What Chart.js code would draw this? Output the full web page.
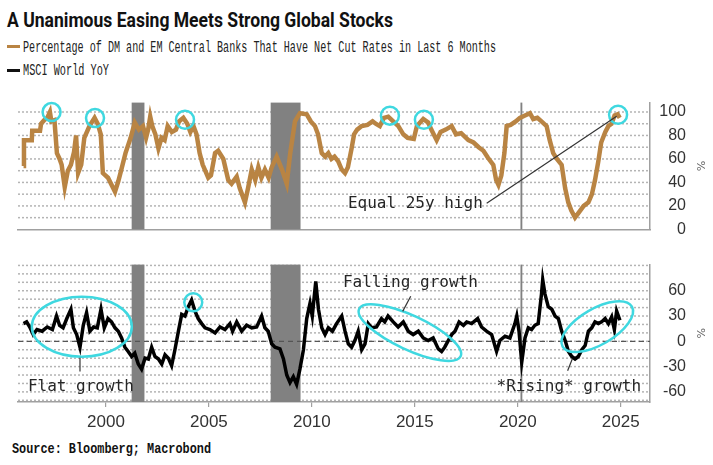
<!DOCTYPE html>
<html>
<head>
<meta charset="utf-8">
<script src="https://cdn.jsdelivr.net/npm/chart.js@4.4.1/dist/chart.umd.min.js"></script>
<style>
  body { margin: 0; width: 713px; height: 465px; background: #fff; position: relative; overflow: hidden; }
  .abs { position: absolute; white-space: nowrap; }
  #title { left: 7px; top: 10px; font: bold 20px Roboto, sans-serif; line-height: 20px; color: #111; }
  .leg { left: 23px; font: 16px "Liberation Mono", monospace; line-height: 16px; color: #222; }
  .sw { position: absolute; left: 7px; width: 13px; height: 3px; }
  #source { left: 12px; top: 442px; font: bold 14px "Liberation Mono", monospace; line-height: 14px; color: #111; }
  canvas { position: absolute; left: 0; }
</style>
</head>
<body>
<div id="title" class="abs js-fit" data-w="386">A Unanimous Easing Meets Strong Global Stocks</div>
<div class="sw" style="top:45px;background:#b98443"></div>
<div class="abs leg js-fit" data-w="473" style="top:40px">Percentage of DM and EM Central Banks That Have Net Cut Rates in Last 6 Months</div>
<div class="sw" style="top:69px;background:#111"></div>
<div class="abs leg js-fit" data-w="86" style="top:63px">MSCI World YoY</div>
<canvas id="chartTop" width="713" height="160" style="top:86px"></canvas>
<canvas id="chartBottom" width="713" height="190" style="top:248px"></canvas>
<div id="source" class="abs js-fit" data-w="199">Source: Bloomberg; Macrobond</div>

<script>
// percentage of central banks with net cuts (last 6 months)
const pctDates = [1996.00, 1996.02, 1996.40, 1996.42, 1996.80, 1996.85, 1997.00, 1997.15, 1997.28, 1997.35, 1997.50, 1997.62, 1997.75, 1997.85, 1998.00, 1998.15, 1998.30, 1998.45, 1998.55, 1998.65, 1998.80, 1998.95, 1999.20, 1999.45, 1999.60, 1999.75, 1999.85, 2000.10, 2000.44, 2000.60, 2000.75, 2000.95, 2001.20, 2001.40, 2001.60, 2001.80, 2001.95, 2002.05, 2002.15, 2002.25, 2002.40, 2002.55, 2002.70, 2002.85, 2003.00, 2003.20, 2003.40, 2003.55, 2003.76, 2003.95, 2004.10, 2004.25, 2004.40, 2004.55, 2004.70, 2004.97, 2005.10, 2005.30, 2005.45, 2005.70, 2005.94, 2006.10, 2006.35, 2006.50, 2006.75, 2006.90, 2007.08, 2007.25, 2007.40, 2007.55, 2007.72, 2007.90, 2008.05, 2008.29, 2008.55, 2008.78, 2008.95, 2009.18, 2009.42, 2009.75, 2009.95, 2010.15, 2010.30, 2010.48, 2010.65, 2010.80, 2010.95, 2011.10, 2011.28, 2011.45, 2011.61, 2011.75, 2011.93, 2012.05, 2012.20, 2012.42, 2012.70, 2012.95, 2013.10, 2013.30, 2013.50, 2013.71, 2013.95, 2014.20, 2014.44, 2014.65, 2014.95, 2015.10, 2015.41, 2015.65, 2015.80, 2016.06, 2016.25, 2016.50, 2016.79, 2017.00, 2017.25, 2017.60, 2017.85, 2018.10, 2018.33, 2018.55, 2018.81, 2018.95, 2019.06, 2019.20, 2019.35, 2019.46, 2019.65, 2019.90, 2020.10, 2020.35, 2020.59, 2020.75, 2020.95, 2021.15, 2021.40, 2021.55, 2021.72, 2021.90, 2022.13, 2022.30, 2022.45, 2022.60, 2022.78, 2022.95, 2023.20, 2023.43, 2023.60, 2023.75, 2023.91, 2024.05, 2024.25, 2024.40, 2024.55, 2024.70, 2024.85, 2024.95];
const pctValues = [54, 76, 76, 84, 84, 90, 93, 95, 100, 92, 93, 65, 60, 55, 36, 50, 55, 66, 80, 48, 55, 78, 88, 95, 90, 81, 48, 44, 32, 41, 51, 65, 78, 91, 85, 88, 78, 85, 96, 88, 81, 69, 78, 76, 88, 83, 85, 92, 95, 90, 83, 88, 81, 65, 55, 44, 46, 65, 67, 60, 42, 39, 45, 35, 23, 35, 51, 42, 53, 44, 51, 44, 53, 62, 51, 39, 65, 92, 99, 98, 92, 88, 81, 65, 62, 65, 60, 62, 58, 51, 48, 53, 69, 81, 85, 88, 89, 92, 90, 88, 95, 96, 92, 88, 81, 78, 77, 88, 94, 91, 85, 76, 83, 85, 88, 81, 82, 76, 74, 70, 67, 61, 55, 42, 38, 46, 65, 88, 89, 92, 95, 97, 99, 94, 95, 92, 88, 76, 65, 60, 55, 35, 23, 16, 10, 14, 20, 23, 30, 42, 58, 74, 83, 88, 90, 97, 98, 95];

// MSCI World year-on-year change, %
const msciDates = [1996.00, 1996.15, 1996.30, 1996.47, 1996.65, 1996.90, 1997.15, 1997.40, 1997.60, 1997.75, 1997.92, 1998.10, 1998.30, 1998.42, 1998.58, 1998.74, 1998.90, 1999.06, 1999.22, 1999.40, 1999.58, 1999.76, 1999.92, 2000.10, 2000.27, 2000.44, 2000.60, 2000.76, 2000.92, 2001.08, 2001.25, 2001.40, 2001.57, 2001.73, 2001.90, 2002.06, 2002.22, 2002.38, 2002.55, 2002.71, 2002.87, 2003.03, 2003.19, 2003.35, 2003.52, 2003.68, 2003.84, 2004.00, 2004.16, 2004.32, 2004.48, 2004.65, 2004.81, 2005.05, 2005.30, 2005.54, 2005.78, 2006.02, 2006.15, 2006.35, 2006.59, 2006.83, 2007.08, 2007.32, 2007.56, 2007.72, 2007.88, 2008.05, 2008.21, 2008.45, 2008.62, 2008.78, 2008.94, 2009.10, 2009.26, 2009.42, 2009.59, 2009.75, 2009.91, 2010.02, 2010.19, 2010.32, 2010.48, 2010.64, 2010.80, 2011.00, 2011.20, 2011.45, 2011.61, 2011.77, 2011.93, 2012.09, 2012.25, 2012.42, 2012.58, 2012.74, 2012.90, 2013.14, 2013.38, 2013.54, 2013.70, 2013.95, 2014.19, 2014.44, 2014.68, 2014.92, 2015.17, 2015.41, 2015.65, 2015.89, 2016.14, 2016.30, 2016.45, 2016.63, 2016.79, 2016.95, 2017.15, 2017.36, 2017.52, 2017.76, 2018.05, 2018.24, 2018.48, 2018.73, 2018.97, 2019.13, 2019.38, 2019.62, 2019.86, 2019.95, 2020.06, 2020.19, 2020.35, 2020.51, 2020.67, 2020.83, 2020.99, 2021.15, 2021.21, 2021.32, 2021.48, 2021.65, 2021.81, 2021.97, 2022.13, 2022.30, 2022.46, 2022.62, 2022.78, 2022.94, 2023.11, 2023.27, 2023.43, 2023.59, 2023.75, 2023.91, 2024.07, 2024.24, 2024.40, 2024.56, 2024.69, 2024.80, 2024.96];
const msciValues = [21, 23, 17, 8, 14, 12, 17, 14, 30, 19, 16, 27, 38, 16, 8, -7, 19, 34, 12, 17, 16, 38, 16, 27, 23, 16, 12, 4, -7, -12, -18, -14, -27, -33, -20, -21, -7, -18, -21, -27, -16, -20, -29, -10, 12, 32, 30, 41, 49, 36, 27, 21, 16, 14, 10, 17, 14, 21, 12, 23, 12, 19, 16, 17, 30, 16, 12, -3, -7, -9, -21, -40, -49, -42, -51, -33, -10, 27, 45, 30, 71, 38, 16, 8, 16, 12, 21, 30, 12, -3, -7, 1, 12, -10, -3, 21, 16, 17, 27, 23, 30, 23, 17, 23, 12, 8, 12, 4, 1, 4, -9, -12, -7, 1, 8, 12, 23, 19, 23, 21, 27, 17, 12, 8, -12, 1, 6, 4, 21, 30, 12, -25, 4, 16, 14, 19, 21, 56, 73, 56, 41, 38, 30, 27, 12, 1, -12, -18, -21, -18, -10, -5, 12, 16, 23, 21, 23, 27, 21, 29, 14, 36, 25];

const xTicks = [2000, 2005, 2010, 2015, 2020, 2025];
const pctTicks = [0, 20, 40, 60, 80, 100];
const msciTicks = [-60, -30, 0, 30, 60];
const recessions = [[2001.25, 2001.87], [2008.0, 2009.45], [2020.13, 2020.22]];

const X_MIN = 1995.73;
const X_MAX = 2026.42;
const BROWN = '#b98443';
const CYAN = '#3fd8e0';
const AXIS_GREY = '#a0a0a0';

// annotations, positioned in data units
const topNotes = {
  circles: [[1997.36, 99.9], [1999.47, 94.8], [2003.84, 93.4], [2013.79, 96.9], [2015.44, 93.4], [2024.87, 97.6]],
  ellipses: [],
  lines: [[2018.49, 22.3, 2024.80, 96.4]],
  texts: [['Equal 25y high', 2011.75, 18.1]]
};
const bottomNotes = {
  circles: [[2004.24, 46.3]],
  ellipses: [[1998.83, 17.4, 50, 30, 0], [2014.76, 10.3, 56, 17, 25], [2023.86, 17.4, 40, 18, -30]],
  lines: [[1998.74, -19.5, 1998.74, -35.8], [2014.80, 53.5, 2014.41, 35.5], [2022.65, -20.6, 2022.42, -35.0]],
  texts: [['Flat growth', 1996.21, -58.6], ['Falling growth', 2011.51, 64.3], ['*Rising* growth', 2018.97, -58.6]]
};

const toPoints = function (dates, values) {
  return dates.map((d, i) => ({ x: d, y: values[i] }));
};

const makeOverlay = function (notes) {
  return {
    id: 'overlay',
    beforeDatasetsDraw(chart) {
      const { ctx, chartArea: a, scales: { x, y } } = chart;
      ctx.save();
      // dotted horizontal grid, one line per y tick
      ctx.strokeStyle = '#b4b4b4';
      ctx.lineWidth = 1.5;
      ctx.setLineDash([2, 2]);
      for (const t of y.ticks) {
        const py = y.getPixelForValue(t.value);
        if (py > a.bottom - 1) continue;
        ctx.beginPath();
        ctx.moveTo(a.left, py);
        ctx.lineTo(a.right, py);
        ctx.stroke();
      }
      ctx.setLineDash([]);
      ctx.fillStyle = '#818181';
      for (const [s, e] of recessions) {
        const x1 = x.getPixelForValue(s);
        const x2 = x.getPixelForValue(e);
        ctx.fillRect(x1, a.top, x2 - x1, a.bottom - a.top);
      }
      ctx.restore();
    },
    afterDatasetsDraw(chart) {
      const { ctx, chartArea: a, scales: { x, y } } = chart;
      ctx.save();
      ctx.strokeStyle = CYAN;
      ctx.lineWidth = 2.5;
      for (const [cx, cy] of notes.circles) {
        ctx.beginPath();
        ctx.arc(x.getPixelForValue(cx), y.getPixelForValue(cy), 9, 0, Math.PI * 2);
        ctx.stroke();
      }
      for (const [cx, cy, rx, ry, rot] of notes.ellipses) {
        ctx.beginPath();
        ctx.ellipse(x.getPixelForValue(cx), y.getPixelForValue(cy), rx, ry, rot * Math.PI / 180, 0, Math.PI * 2);
        ctx.stroke();
      }
      ctx.strokeStyle = '#333';
      ctx.lineWidth = 1.2;
      for (const [x1, y1, x2, y2] of notes.lines) {
        ctx.beginPath();
        ctx.moveTo(x.getPixelForValue(x1), y.getPixelForValue(y1));
        ctx.lineTo(x.getPixelForValue(x2), y.getPixelForValue(y2));
        ctx.stroke();
      }
      ctx.fillStyle = '#262626';
      ctx.font = '16px "DejaVu Sans Mono"';
      ctx.textBaseline = 'alphabetic';
      for (const [txt, tx, ty] of notes.texts) {
        ctx.fillText(txt, x.getPixelForValue(tx), y.getPixelForValue(ty));
      }
      // unit label on the right, turned like a vertical axis title
      ctx.translate(700, (a.top + a.bottom) / 2);
      ctx.rotate(Math.PI / 2);
      ctx.fillStyle = '#666';
      ctx.font = '11px "DejaVu Sans"';
      ctx.textAlign = 'center';
      ctx.textBaseline = 'middle';
      ctx.fillText('%', 0, 0);
      ctx.restore();
    }
  };
};

const yAxis = function (min, max, labels) {
  return {
    position: 'right',
    min: min,
    max: max,
    afterFit: s => { s.width = 36; },
    ticks: {
      stepSize: 10,
      includeBounds: false,
      autoSkip: false,
      crossAlign: 'far',
      padding: 7,
      color: '#333',
      font: { family: 'Liberation Sans', size: 16 },
      callback: v => labels.includes(v) ? String(v) : ''
    },
    grid: { display: false },
    border: { color: AXIS_GREY, width: 1.5 }
  };
};

const buildTop = function () {
  const ctx = document.getElementById('chartTop').getContext('2d');
  return new Chart(ctx, {
    type: 'line',
    data: {
      datasets: [{
        data: toPoints(pctDates, pctValues),
        borderColor: BROWN,
        borderWidth: 4.5,
        pointRadius: 0,
        tension: 0
      }]
    },
    options: {
      responsive: false,
      animation: false,
      devicePixelRatio: 1,
      layout: { padding: { left: 18, right: 27, top: 4, bottom: 1 } },
      plugins: { legend: { display: false }, tooltip: { enabled: false } },
      scales: {
        x: {
          type: 'linear', min: X_MIN, max: X_MAX,
          afterFit: s => { s.height = 0; },
          ticks: { display: false },
          grid: { display: false },
          border: { color: AXIS_GREY, width: 1.5 }
        },
        y: yAxis(0, 108, pctTicks)
      }
    },
    plugins: [makeOverlay(topNotes)]
  });
};

const buildBottom = function () {
  const ctx = document.getElementById('chartBottom').getContext('2d');
  return new Chart(ctx, {
    type: 'line',
    data: {
      datasets: [{
        data: toPoints(msciDates, msciValues),
        borderColor: '#000',
        borderWidth: 3.5,
        pointRadius: 0,
        tension: 0
      }, {
        data: [{ x: X_MIN, y: 0 }, { x: X_MAX, y: 0 }],
        borderColor: '#555',
        borderWidth: 1.3,
        borderDash: [5, 4],
        pointRadius: 0
      }]
    },
    options: {
      responsive: false,
      animation: false,
      devicePixelRatio: 1,
      layout: { padding: { left: 18, right: 27, top: 4, bottom: 0 } },
      plugins: { legend: { display: false }, tooltip: { enabled: false } },
      scales: {
        x: {
          type: 'linear', min: X_MIN, max: X_MAX,
          afterBuildTicks: s => { s.ticks = xTicks.map(v => ({ value: v })); },
          afterFit: s => { s.height = 36; },
          ticks: {
            autoSkip: false, maxRotation: 0, padding: 5, color: '#333',
            font: { family: 'Liberation Sans', size: 17 },
            callback: v => String(v)
          },
          grid: { drawOnChartArea: false, tickLength: 5, color: AXIS_GREY, lineWidth: 1.2 },
          border: { color: AXIS_GREY, width: 1.5 }
        },
        y: yAxis(-72, 91, msciTicks)
      }
    },
    plugins: [makeOverlay(bottomNotes)]
  });
};

const fitTexts = function () {
  for (const el of document.querySelectorAll('.js-fit')) {
    el.style.transformOrigin = 'left top';
    const w = el.getBoundingClientRect().width;
    el.style.transform = `scaleX(${Number(el.dataset.w) / w})`;
  }
};

document.addEventListener('DOMContentLoaded', function () {
  fitTexts();
  buildTop();
  buildBottom();
});
</script>
</body>
</html>
